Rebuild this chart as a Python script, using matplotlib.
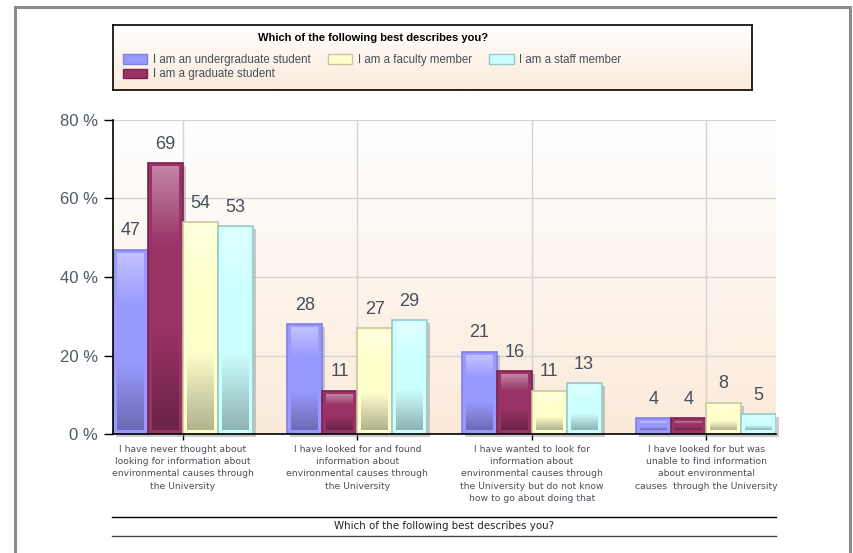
import numpy as np
import matplotlib
matplotlib.use('Agg')
import matplotlib.pyplot as plt
from matplotlib.patches import Rectangle, Patch
from matplotlib.colors import to_rgb
from matplotlib.lines import Line2D

plt.rcParams['font.family'] = ['Liberation Sans', 'DejaVu Sans']

# data
categories = ['I have never thought about\nlooking for information about\nenvironmental causes through\nthe University',
              'I have looked for and found\ninformation about\nenvironmental causes through\nthe University',
              'I have wanted to look for\ninformation about\nenvironmental causes through\nthe University but do not know\nhow to go about doing that',
              'I have looked for but was\nunable to find information\nabout environmental\ncauses  through the University']
series = ['I am an undergraduate student', 'I am a graduate student',
          'I am a faculty member', 'I am a staff member']
undergrad = [47, 28, 21, 4]
graduate = [69, 11, 16, 4]
faculty = [54, 27, 11, 8]
staff = [53, 29, 13, 5]
values = [undergrad, graduate, faculty, staff]
colors = ['#9999FF', '#993366', '#FFFFCC', '#CCFFFF']
edges = ['#7F7FE6', '#7A2350', '#C9C6A0', '#99C8C8']
yticks = [0, 20, 40, 60, 80]
title = 'Which of the following best describes you?'

W, H = 854, 553
fig = plt.figure(figsize=(W / 100, H / 100), dpi=100)

# outer frame
fig.patches.append(Rectangle((15 / W, -0.05), 835 / W, 1.05 - 7 / H, transform=fig.transFigure,
                             fill=False, edgecolor='#8c8c8c', linewidth=2.2))


def mix(c, other, t):
    c = np.array(to_rgb(c))
    o = np.array(to_rgb(other))
    return c * (1 - t) + o * t


# plot area
ax = fig.add_axes([113 / W, 1 - 434 / H, 663 / W, 314 / H])
ax.set_xlim(-0.4, 3.4)
ax.set_ylim(0, 80)

bg = np.linspace(0, 1, 100)[:, None, None] * (mix('#FBEADA', 'white', 0) - 1) + 1
ax.imshow(bg, extent=(-0.4, 3.4, 0, 80), aspect='auto', origin='upper', zorder=0)

ax.set_yticks(yticks)
ax.set_yticklabels(['%d %%' % t for t in yticks], fontsize=12, color='#505a64')
ax.set_xticks(range(4))
ax.set_xticklabels(categories, fontsize=6.7, color='#4a4e58', linespacing=1.45,
                   family='DejaVu Sans')
ax.tick_params(axis='y', length=6.5, width=1, color='black', pad=4.3)
ax.tick_params(axis='x', length=4.5, width=1, color='black', pad=3.5)
ax.grid(True, color='#d4d4d4', linewidth=1)
ax.set_axisbelow(True)
for s in ['top', 'right']:
    ax.spines[s].set_visible(False)
for s in ['left', 'bottom']:
    ax.spines[s].set_linewidth(1.2)
    ax.spines[s].set_zorder(5)

bw = 0.2
px = 3.8 / 663
py = 80 / 314
for j, vals in enumerate(values):
    base = colors[j]
    grad = np.zeros((100, 1, 3))
    for k, t in enumerate(np.linspace(0, 1, 100)):
        if t < 0.3:
            grad[k, 0] = mix(base, 'white', 0.4 * (1 - t / 0.3))
        elif t < 0.62:
            grad[k, 0] = mix(base, 'white', 0)
        else:
            grad[k, 0] = mix(base, 'black', 0.3 * (t - 0.62) / 0.38)
    for i, v in enumerate(vals):
        x0 = i - 0.4 + j * bw
        # shadow
        ax.add_patch(Rectangle((x0 + 3 * px, -3 * py), bw, v, facecolor='#9a9a9a', alpha=0.5,
                               edgecolor='none', zorder=2, clip_on=False))
        ax.add_patch(Rectangle((x0, 0), bw, v, facecolor=base, edgecolor=edges[j],
                               linewidth=1.2, zorder=3))
        ax.imshow(grad, extent=(x0 + 4 * px, x0 + bw - 4 * px, 3.5 * py, v - 4 * py),
                  aspect='auto', origin='upper', zorder=4)
        ax.text(x0 + bw / 2, v + 4.8, str(v), ha='center', va='center', fontsize=13,
                color='#46505a', zorder=6)

# legend box
lax = fig.add_axes([113 / W, 1 - 90 / H, 639 / W, 65 / H])
lbg = np.linspace(0, 1, 50)[:, None, None] * (mix('#FBEADA', 'white', 0) - 1) + 1
lax.imshow(lbg, extent=(0, 1, 0, 1), aspect='auto', origin='upper')
lax.set_xticks([])
lax.set_yticks([])
for s in lax.spines.values():
    s.set_linewidth(1.2)
lax.text(260 / 639, (90 - 38) / 65, title, transform=lax.transAxes, ha='center',
         va='center', fontsize=8, fontweight='bold', color='black')
handles = [Patch(facecolor=colors[j], edgecolor=edges[j]) for j in range(4)]
leg = lax.legend(handles, series, ncol=3, loc='upper left', frameon=False, fontsize=8.3,
                 handlelength=2.1, handleheight=0.9, handletextpad=0.5, columnspacing=1.5,
                 labelspacing=0.2, borderpad=0, borderaxespad=0,
                 bbox_to_anchor=(10 / 639, (90 - 54) / 65))
for t in leg.get_texts():
    t.set_color('#46505a')

# bottom axis title
fig.add_artist(Line2D([112 / W, 776 / W], [1 - 517 / H] * 2, color='black', linewidth=1))
fig.add_artist(Line2D([112 / W, 776 / W], [1 - 536 / H] * 2, color='#444444', linewidth=1))
fig.text(444 / W, 1 - 526 / H, title, ha='center', va='center', fontsize=7.4, color='#222222',
         family='DejaVu Sans')

plt.savefig('out.png', dpi=100)
